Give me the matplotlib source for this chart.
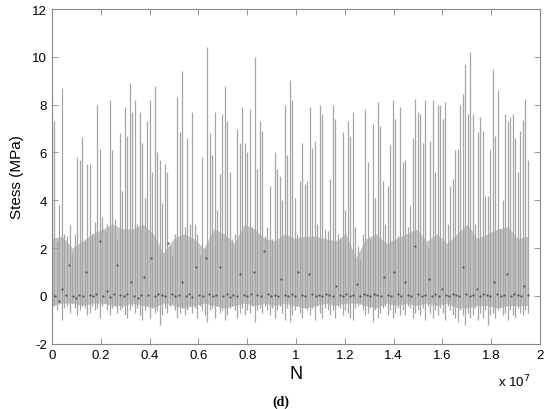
import numpy as np
import matplotlib
matplotlib.use("Agg")
import matplotlib.pyplot as plt
from matplotlib.ticker import FuncFormatter

plt.rcParams["font.family"] = ["Liberation Sans", "DejaVu Sans"]
plt.rcParams["axes.unicode_minus"] = False

# peak stress of each loading block (MPa), read left to right
peaks = [
    8.4, 7.3, 2.3, 3.8, 8.7, 2.6, 2.5, 2.95, 1.8, 2.6, 5.8, 5.7, 6.65, 2.3,
    5.5, 5.5, 2.6, 3.1, 8.0, 6.15, 3.3, 2.7, 3.0, 8.2, 6.1, 3.2, 2.4, 6.8,
    4.4, 7.9, 6.7, 8.9, 7.7, 8.2, 3.0, 7.7, 6.4, 4.1, 7.3, 8.2, 5.2, 8.8,
    6.0, 5.7, 3.9, 5.5, 5.2, 2.1, 1.7, 2.6, 8.3, 6.85, 9.4, 2.9, 6.6, 3.0,
    7.7, 3.0, 2.6, 1.7, 5.8, 2.0, 10.4, 6.8, 5.9, 7.7, 3.6, 5.1, 7.6, 8.8,
    7.3, 5.2, 2.4, 2.6, 7.0, 6.4, 7.9, 6.4, 6.0, 7.8, 2.9, 10.0, 5.3, 7.3,
    6.9, 2.5, 2.9, 4.6, 2.4, 6.0, 5.3, 5.0, 4.0, 8.0, 5.9, 9.05, 8.2, 4.1,
    2.6, 4.8, 6.4, 4.7, 4.8, 7.9, 6.2, 6.5, 3.0, 8.0, 7.6, 2.8, 2.7, 4.9,
    8.0, 7.4, 2.6, 2.4, 6.85, 3.6, 7.3, 6.7, 7.7, 2.9, 2.1, 1.5, 2.6, 7.8,
    5.6, 2.4, 7.2, 4.1, 8.1, 7.1, 4.8, 3.0, 4.6, 6.3, 8.2, 7.4, 2.5, 7.9,
    5.6, 5.7, 2.9, 3.8, 6.6, 8.25, 7.7, 7.6, 6.4, 8.2, 2.0, 6.5, 8.2, 5.2,
    8.0, 8.0, 7.4, 8.1, 3.0, 4.6, 4.9, 6.1, 6.15, 8.0, 8.45, 9.7, 7.6, 10.2,
    7.6, 3.0, 6.85, 7.5, 6.9, 4.2, 4.2, 6.15, 9.5, 6.7, 8.6, 2.8, 4.0, 7.6,
    7.3, 7.5, 7.6, 6.6, 5.2, 6.9, 7.35, 8.25, 5.7,
]

# minimum stress of each loading block (MPa)
troughs = [
    -0.9, -0.4, -0.6, -0.3, -1.0, -0.5, -0.4, -0.7, -0.3, -0.5, -0.8, -0.6, -0.4, -0.5,
    -0.8, -0.7, -0.4, -0.6, -0.5, -0.9, -0.4, -0.3, -0.6, -0.8, -0.5, -0.4, -0.7, -0.6,
    -0.5, -0.8, -0.9, -0.6, -0.4, -0.7, -0.5, -0.8, -1.0, -0.6, -0.4, -0.9, -0.5, -0.7,
    -0.6, -1.2, -0.8, -0.5, -0.7, -0.4, -0.3, -0.6, -0.9, -0.7, -0.5, -0.8, -0.6, -0.4,
    -0.7, -0.5, -0.9, -0.4, -0.6, -0.8, -1.1, -0.6, -0.5, -0.9, -0.4, -0.7, -0.6, -1.0,
    -0.8, -0.5, -0.4, -0.6, -0.9, -0.7, -0.5, -0.8, -0.6, -0.7, -0.4, -1.1, -0.6, -0.5,
    -0.7, -0.4, -0.6, -0.8, -0.5, -0.9, -0.6, -0.4, -0.7, -1.0, -0.5, -1.1, -0.8, -0.6,
    -0.4, -0.7, -0.9, -0.5, -0.6, -0.8, -0.5, -1.0, -0.4, -0.7, -0.9, -0.5, -0.6, -0.8,
    -0.6, -0.9, -0.4, -0.5, -0.8, -0.6, -0.7, -0.9, -1.0, -0.5, -0.4, -0.3, -0.6, -0.8,
    -0.7, -0.5, -1.1, -0.6, -0.9, -0.7, -0.5, -0.4, -0.8, -0.6, -0.9, -0.7, -0.5, -0.8,
    -0.6, -0.8, -0.4, -0.5, -0.9, -0.7, -0.6, -0.8, -0.5, -1.0, -0.4, -0.7, -0.9, -0.6,
    -0.8, -0.5, -0.7, -1.0, -0.4, -0.6, -0.8, -0.9, -1.1, -0.6, -0.8, -1.2, -0.7, -0.9,
    -0.8, -0.5, -1.0, -0.7, -0.9, -0.6, -1.2, -0.8, -0.7, -0.9, -0.6, -0.5, -0.8, -0.7,
    -1.0, -0.6, -0.8, -0.9, -0.5, -0.7, -0.8, -0.6, -0.7,
]

# upper edge of the dense band of small cycles (MPa)
band_top = [
    2.4, 2.5, 2.0, 2.3, 2.6, 2.8, 3.0, 2.8, 2.8, 3.0, 2.6, 1.8, 2.4, 2.6,
    2.4, 2.0, 2.8, 2.6, 2.2, 3.0, 2.8, 2.4, 2.3, 2.6, 2.4, 2.5, 2.5, 2.4,
    2.3, 2.6, 1.6, 2.4, 2.6, 2.2, 2.4, 2.6, 2.8, 2.3, 2.6, 2.2, 2.6, 3.0,
    2.4, 2.6, 2.8, 2.9, 2.4, 2.5,
]
# lower edge of the dense band (MPa)
band_bottom = [
    -0.4, -0.3, -0.3, -0.4, -0.3, -0.3, -0.4, -0.4, -0.3, -0.4, -0.5, -0.3, -0.4, -0.5,
    -0.4, -0.3, -0.4, -0.5, -0.4, -0.3, -0.4, -0.3, -0.4, -0.3, -0.4, -0.5, -0.4, -0.3,
    -0.4, -0.3, -0.3, -0.4, -0.5, -0.3, -0.4, -0.3, -0.4, -0.3, -0.4, -0.3, -0.5, -0.5,
    -0.4, -0.4, -0.5, -0.4, -0.4, -0.4,
]

# dark mean points of the blocks (MPa)
means = [
    0.1, 0.0, -0.2, 0.3, 0.05, 1.3, 0.0, -0.1, 0.05, 0.0, 1.0, 0.05, 0.0, 0.1,
    2.3, 0.0, 0.2, -0.05, 0.1, 1.3, 0.05, 0.0, 0.1, 0.6, 0.0, -0.1, 0.05, 0.8,
    0.05, 1.6, 0.0, 0.1, 0.05, 0.0, 2.2, 0.1, 0.0, 0.05, 0.6, 0.0, 0.1, -0.05,
    1.2, 0.05, 0.0, 1.6, 0.1, 0.0, 0.05, 1.2, 0.0, 0.1, -0.05, 0.05, 0.0, 0.9,
    0.05, 0.0, 0.1, 1.0, 0.05, 0.0, 1.9, 0.1, 0.0, 0.05, 0.0, 0.7, 0.05, 0.0,
    0.1, 0.0, 1.0, 0.05, 0.0, 0.9, 0.1, 0.0, 0.05, 0.0, 0.1, 0.05, 0.0, 0.4,
    0.05, 0.0, 0.1, 0.0, 0.05, 0.5, 0.0, 0.1, 0.05, 0.0, 0.1, 0.05, 0.0, 0.8,
    0.05, 0.0, 1.0, 0.1, 0.0, 0.6, 0.05, 0.0, 2.1, 0.1, 0.0, 0.05, 0.7, 0.0,
    0.1, 0.0, 0.3, 0.05, 0.0, 0.1, 0.05, 0.0, 1.2, 0.1, 0.0, 0.05, 0.3, 0.0,
    0.1, 0.05, 0.0, 0.6, 0.1, 0.0, 0.05, 0.9, 0.0, 0.1, 0.05, 0.0, 0.4, 0.05,
]

n_end = 1.95e7
N_peak = np.linspace(0, n_end, len(peaks))
N_band = np.linspace(0, n_end, len(band_top))
N_mean = np.linspace(0, n_end, len(means))

fig = plt.figure(figsize=(5.5, 4.1), dpi=100)
ax = fig.add_axes([0.0945, 0.159, 0.8875, 0.8166])

ax.fill_between(N_band, band_bottom, band_top, color="#c6c6c6", linewidth=0)
ax.vlines(N_peak, troughs, peaks, color="#a6a6a6", linewidth=0.9)
ax.plot(N_mean, means, linestyle="none", marker=".", markersize=1.0, color="#444444")

ax.set_xlim(0, 2e7)
ax.set_ylim(-2, 12)
ax.set_xticks(np.arange(0, 2.01e7, 0.2e7))
ax.set_yticks(np.arange(-2, 13, 2))
ax.xaxis.set_major_formatter(FuncFormatter(lambda v, p: "%g" % round(v / 1e7, 1)))

ax.tick_params(direction="in", top=True, right=True, length=4, width=0.6,
               color="#888888", labelsize=9.5)
for s in ax.spines.values():
    s.set_color("#888888")
    s.set_linewidth(0.8)

ax.set_ylabel("Stess (MPa)", fontsize=11, labelpad=6)
ax.set_xlabel("N", fontsize=13, labelpad=3)
fig.text(0.905, 0.055, r"x 10$^7$", fontsize=9.5)
fig.text(0.495, 0.01, "(d)", fontsize=10, family="Liberation Serif", fontweight="bold")

fig.savefig("out.png", dpi=100)
